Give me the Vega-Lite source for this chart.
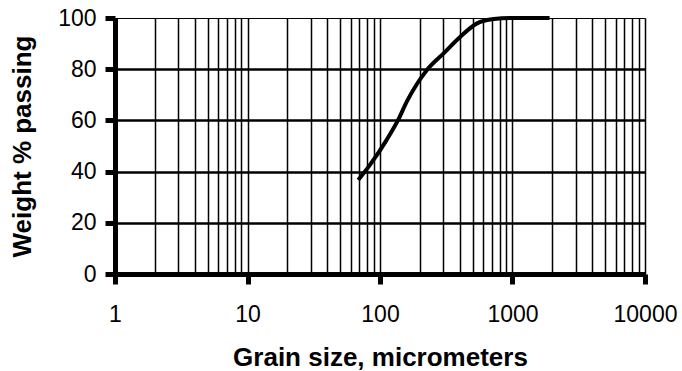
{
  "$schema": "https://vega.github.io/schema/vega-lite/v6.json",
  "width": 530,
  "height": 256,
  "autosize": "none",
  "padding": {"left": 115, "top": 18, "right": 37, "bottom": 97},
  "background": "white",
  "config": {
    "view": {"stroke": null},
    "font": "Liberation Sans",
    "axis": {
      "labelFont": "Liberation Sans",
      "titleFont": "Liberation Sans",
      "labelColor": "black",
      "titleColor": "black",
      "domainColor": "black",
      "tickColor": "black",
      "gridColor": "black",
      "gridOpacity": 1
    }
  },
  "data": {
    "values": [
      {"size": 68.5, "passing": 36.7},
      {"size": 84, "passing": 42.6},
      {"size": 112, "passing": 52.3},
      {"size": 138, "passing": 60.5},
      {"size": 160, "passing": 67.5},
      {"size": 190, "passing": 74.2},
      {"size": 226, "passing": 79.7},
      {"size": 302, "passing": 86.2},
      {"size": 404, "passing": 92.7},
      {"size": 540, "passing": 97.9},
      {"size": 721, "passing": 99.6},
      {"size": 966, "passing": 100},
      {"size": 1905, "passing": 100}
    ]
  },
  "mark": {"type": "line", "color": "black", "strokeWidth": 4, "interpolate": "monotone"},
  "encoding": {
    "x": {
      "field": "size",
      "type": "quantitative",
      "scale": {"type": "log", "domain": [1, 10000], "nice": false},
      "axis": {
        "title": "Grain size, micrometers",
        "titleFontSize": 26,
        "titleFontWeight": "bold",
        "titlePadding": 18,
        "values": [1,2,3,4,5,6,7,8,9,10,20,30,40,50,60,70,80,90,100,200,300,400,500,600,700,800,900,1000,2000,3000,4000,5000,6000,7000,8000,9000,10000],
        "labelExpr": "(datum.value == 1 || datum.value == 10 || datum.value == 100 || datum.value == 1000 || datum.value == 10000) ? format(datum.value, 'd') : ''",
        "labelOverlap": false,
        "labelFlush": false,
        "labelFontSize": 23,
        "labelPadding": 19,
        "domainWidth": 5,
        "tickSize": 10,
        "tickWidth": 5,
        "tickOpacity": {"condition": {"test": "datum.value == 1 || datum.value == 10 || datum.value == 100 || datum.value == 1000 || datum.value == 10000", "value": 1}, "value": 0},
        "grid": true,
        "gridWidth": 1.5
      }
    },
    "y": {
      "field": "passing",
      "type": "quantitative",
      "scale": {"domain": [0, 100], "nice": false},
      "axis": {
        "title": "Weight % passing",
        "titleFontSize": 26,
        "titleFontWeight": "bold",
        "titlePadding": 22,
        "values": [0, 20, 40, 60, 80, 100],
        "labelFontSize": 23,
        "labelPadding": 9,
        "domainWidth": 5,
        "tickSize": 10,
        "tickWidth": 5,
        "grid": true,
        "gridWidth": {"condition": {"test": "datum.value == 100", "value": 1}, "value": 2.5}
      }
    }
  }
}
